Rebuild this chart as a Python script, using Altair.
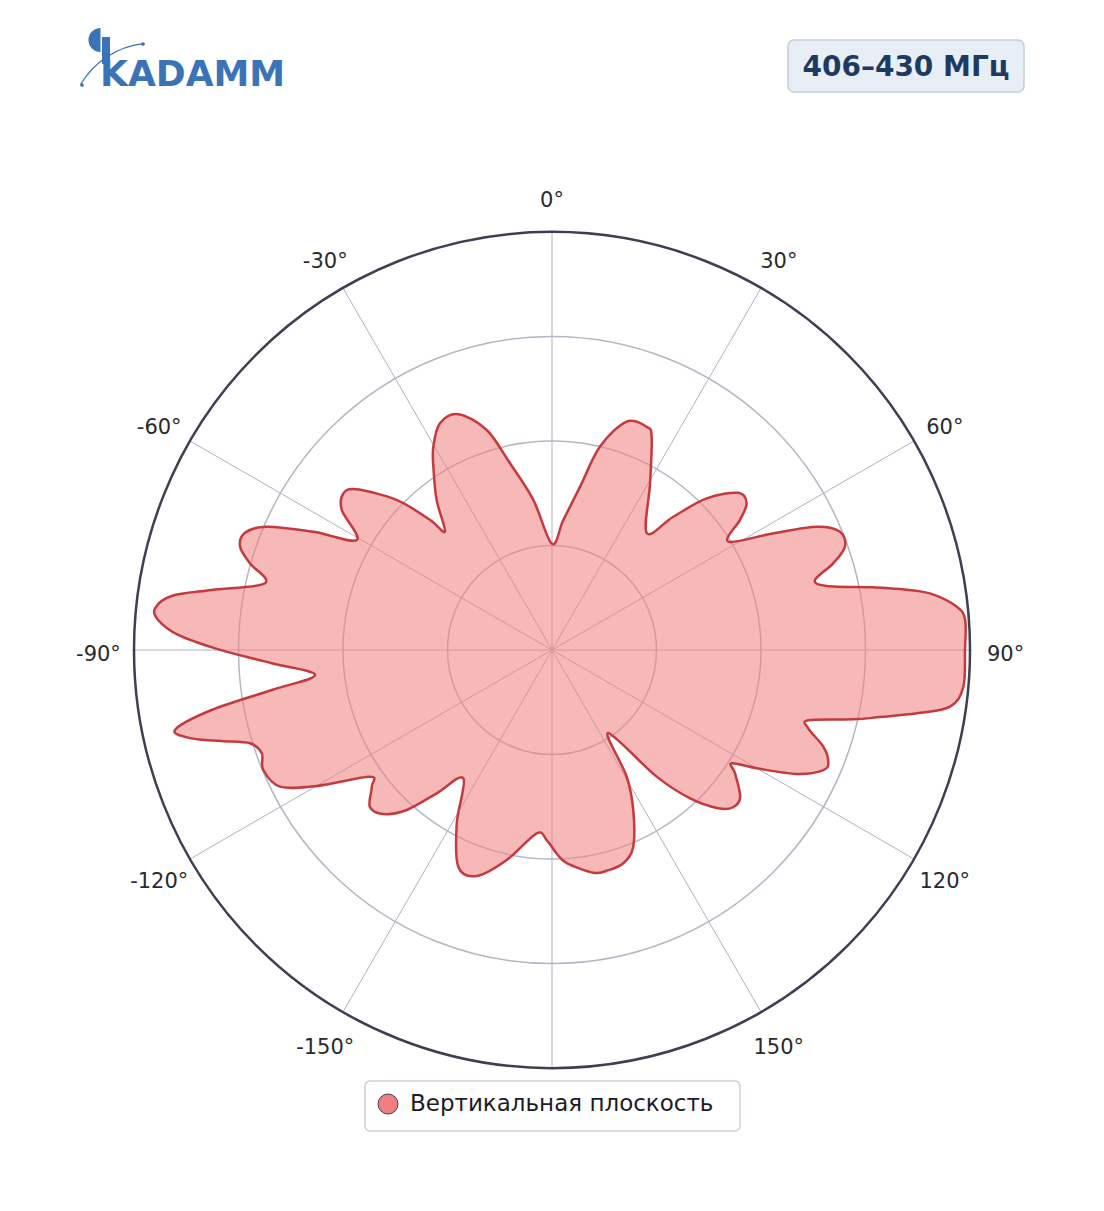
import math
import altair as alt
import pandas as pd

# ---- pattern data (angle clockwise from top, degrees; normalized radius) ----
angles = [0.0, 4.97, 9.73, 13.28, 18.1, 23.0, 25.05, 30.45, 39.06, 42.3, 45.56, 49.83,
          53.0, 55.3, 58.44, 62.2, 65.03, 67.67, 70.58, 72.87, 75.1, 76.88, 78.96, 80.06,
          81.47, 83.89, 85.85, 90.0, 95.1, 98.1, 99.85, 101.55, 102.95, 105.3, 106.99,
          109.6, 112.0, 113.86, 116.87, 120.0, 122.23, 123.97, 127.97, 130.95, 133.6,
          137.06, 140.43, 145.95, 149.48, 153.06, 157.55, 161.51, 166.08, 169.49, 176.06,
          178.7, 181.6, 184.77, 192.17, 198.43, 203.38, 208.8, 214.65, 218.82, 222.24,
          225.81, 229.28, 232.83, 235.15, 239.97, 243.32, 247.43, 250.41, 252.83, 254.6,
          256.23, 258.02, 260.0, 261.88, 263.98, 267.28, 270.1, 272.3, 274.36, 276.0,
          278.08, 280.0, 283.08, 286.02, 288.32, 290.9, 293.37, 296.36, 299.39, 303.65,
          306.9, 309.45, 313.99, 316.83, 317.87, 322.45, 327.07, 329.72, 333.7, 338.35,
          343.47, 347.32, 352.9]
radii = [0.254, 0.312, 0.396, 0.500, 0.575, 0.580, 0.563, 0.463, 0.360, 0.431, 0.518, 0.583,
         0.583, 0.547, 0.495, 0.599, 0.699, 0.745, 0.743, 0.704, 0.651, 0.675, 0.783, 0.845,
         0.914, 0.974, 0.991, 0.988, 0.988, 0.962, 0.886, 0.801, 0.740, 0.636, 0.641,
         0.689, 0.713, 0.710, 0.656, 0.566, 0.508, 0.528, 0.571, 0.574, 0.549,
         0.485, 0.393, 0.240, 0.352, 0.429, 0.509, 0.538, 0.544, 0.542, 0.511,
         0.487, 0.455, 0.440, 0.514, 0.570, 0.565, 0.473, 0.373, 0.440, 0.517,
         0.563, 0.575, 0.541, 0.531, 0.650, 0.728, 0.748, 0.737, 0.756, 0.820,
         0.888, 0.922, 0.827, 0.677, 0.570, 0.671, 0.798, 0.895, 0.945, 0.955,
         0.919, 0.827, 0.705, 0.752, 0.786, 0.786, 0.744, 0.637, 0.536, 0.604,
         0.624, 0.605, 0.517, 0.427, 0.382, 0.453, 0.522, 0.563, 0.605, 0.607,
         0.549, 0.458, 0.362]

spoke_angles = [0, 30, 60, 90, 120, 150, 180, 210, 240, 270, 300, 330]
ring_levels = [0.25, 0.5, 0.75]
outer_level = [1.0]
tick_angles = [0, 30, 60, 90, 120, 150, -150, -120, -90, -60, -30]
tick_labels = ["0°", "30°", "60°", "90°", "120°", "150°", "-150°", "-120°", "-90°", "-60°", "-30°"]
title_text = ["406–430 МГц"]
logo_text = ["KADAMM"]
series_name = ["Вертикальная плоскость"]

W = 836
HALF = W / 2
FONT = "DejaVu Sans"

df = pd.DataFrame({"i": list(range(len(angles))), "angle": angles, "r": radii})

xs = alt.Scale(domain=[-1, 1], nice=False, zero=False)
ys = alt.Scale(domain=[-1, 1], nice=False, zero=False)

spokes = alt.Chart(pd.DataFrame({"a": spoke_angles})).transform_calculate(
    x0="0", y0="0",
    x1="sin(datum.a*PI/180)", y1="cos(datum.a*PI/180)"
).mark_rule(color="#aeb2be", strokeWidth=1).encode(
    x=alt.X("x0:Q", scale=xs, axis=None),
    y=alt.Y("y0:Q", scale=ys, axis=None),
    x2="x1:Q", y2="y1:Q"
)


def ring_layer(levels, color, width):
    return alt.Chart(pd.DataFrame({"lv": levels})).transform_calculate(
        cx="0", cy="0", sz=f"pow(2*datum.lv*{HALF}, 2)"
    ).mark_point(shape="circle", filled=False, stroke=color, strokeWidth=width, opacity=1).encode(
        x=alt.X("cx:Q", scale=xs, axis=None),
        y=alt.Y("cy:Q", scale=ys, axis=None),
        size=alt.Size("sz:Q", scale=None, legend=None)
    )


rings = ring_layer(ring_levels, "#b3b7c3", 1.5)
outer = ring_layer(outer_level, "#3c4050", 2.5)

shape = alt.Chart(df).transform_calculate(
    px="datum.r*sin(datum.angle*PI/180)", py="datum.r*cos(datum.angle*PI/180)"
).mark_line(
    interpolate="cardinal-closed", fill="#f08080", fillOpacity=0.56,
    stroke="#c43a3e", strokeWidth=2.5, strokeJoin="round"
).encode(
    x=alt.X("px:Q", scale=xs, axis=None),
    y=alt.Y("py:Q", scale=ys, axis=None),
    order=alt.Order("i:Q")
)

labels = alt.Chart(pd.DataFrame({"a": tick_angles, "t": tick_labels})).transform_calculate(
    lx="1.085*sin(datum.a*PI/180)", ly="1.085*cos(datum.a*PI/180)"
).mark_text(font=FONT, fontSize=21, color="#2a2a2a", align="center", baseline="middle", dy=5).encode(
    x=alt.X("lx:Q", scale=xs, axis=None),
    y=alt.Y("ly:Q", scale=ys, axis=None),
    text="t:N"
)

# title badge (top right)
tdf = pd.DataFrame({"t": title_text})
title_box = alt.Chart(tdf).mark_rect(
    cornerRadius=6, fill="#e8eef6", stroke="#c3cedc", strokeWidth=1.5
).encode(x=alt.value(654), x2=alt.value(890), y=alt.value(-192), y2=alt.value(-140))
title = alt.Chart(tdf).mark_text(
    font=FONT, fontSize=28, fontWeight="bold", color="#1f3a60", align="center", baseline="alphabetic"
).encode(x=alt.value(772), y=alt.value(-156), text="t:N")

# logo (top left)
ldf = pd.DataFrame({"t": logo_text})
LOGO = "#3a74b6"
logo = alt.Chart(ldf).mark_text(
    font=FONT, fontSize=36, fontWeight="bold", color=LOGO, align="left", baseline="alphabetic"
).encode(x=alt.value(-34), y=alt.value(-146), text="t:N")
logo_stem = alt.Chart(ldf).mark_rect(fill=LOGO).encode(
    x=alt.value(-32), x2=alt.value(-24), y=alt.value(-195), y2=alt.value(-168))
logo_disc = alt.Chart(ldf).mark_arc(
    theta=math.pi, theta2=2 * math.pi, radius=12, fill=LOGO
).encode(x=alt.value(-33.5), y=alt.value(-192))
logo_curve = alt.Chart(ldf).mark_arc(
    theta=5.246, theta2=6.163, radius=84, radius2=84, fill="transparent", stroke=LOGO, strokeWidth=1.3
).encode(x=alt.value(19), y=alt.value(-105))
logo_dot1 = alt.Chart(ldf).mark_circle(size=14, color=LOGO, opacity=1).encode(
    x=alt.value(-52), y=alt.value(-147))
logo_dot2 = alt.Chart(ldf).mark_circle(size=14, color=LOGO, opacity=1).encode(
    x=alt.value(9), y=alt.value(-188))

# legend (bottom)
gdf = pd.DataFrame({"t": series_name})
leg_box = alt.Chart(gdf).mark_rect(
    cornerRadius=5, fill="white", stroke="#c9d1dd", strokeWidth=1.5
).encode(x=alt.value(231), x2=alt.value(606), y=alt.value(849), y2=alt.value(899))
leg_sym = alt.Chart(gdf).mark_point(
    shape="circle", size=400, filled=True, fill="#f08080", stroke="#3b3f55", strokeWidth=1, opacity=1
).encode(x=alt.value(254), y=alt.value(872))
leg_txt = alt.Chart(gdf).mark_text(
    font=FONT, fontSize=23, color="#1c1c28", align="left", baseline="middle"
).encode(x=alt.value(276), y=alt.value(872), text="t:N")

chart = alt.layer(
    spokes, rings, outer, shape, labels,
    title_box, title, logo_curve, logo_stem, logo_disc, logo, logo_dot1, logo_dot2,
    leg_box, leg_sym, leg_txt
).properties(
    width=W, height=W,
    autosize=alt.AutoSizeParams(type="none"),
    padding={"left": 126, "top": 224, "right": 126, "bottom": 135},
    background="white"
).configure_view(strokeWidth=0)

chart.save("out.html", embed_options={"renderer": "svg", "actions": False})
